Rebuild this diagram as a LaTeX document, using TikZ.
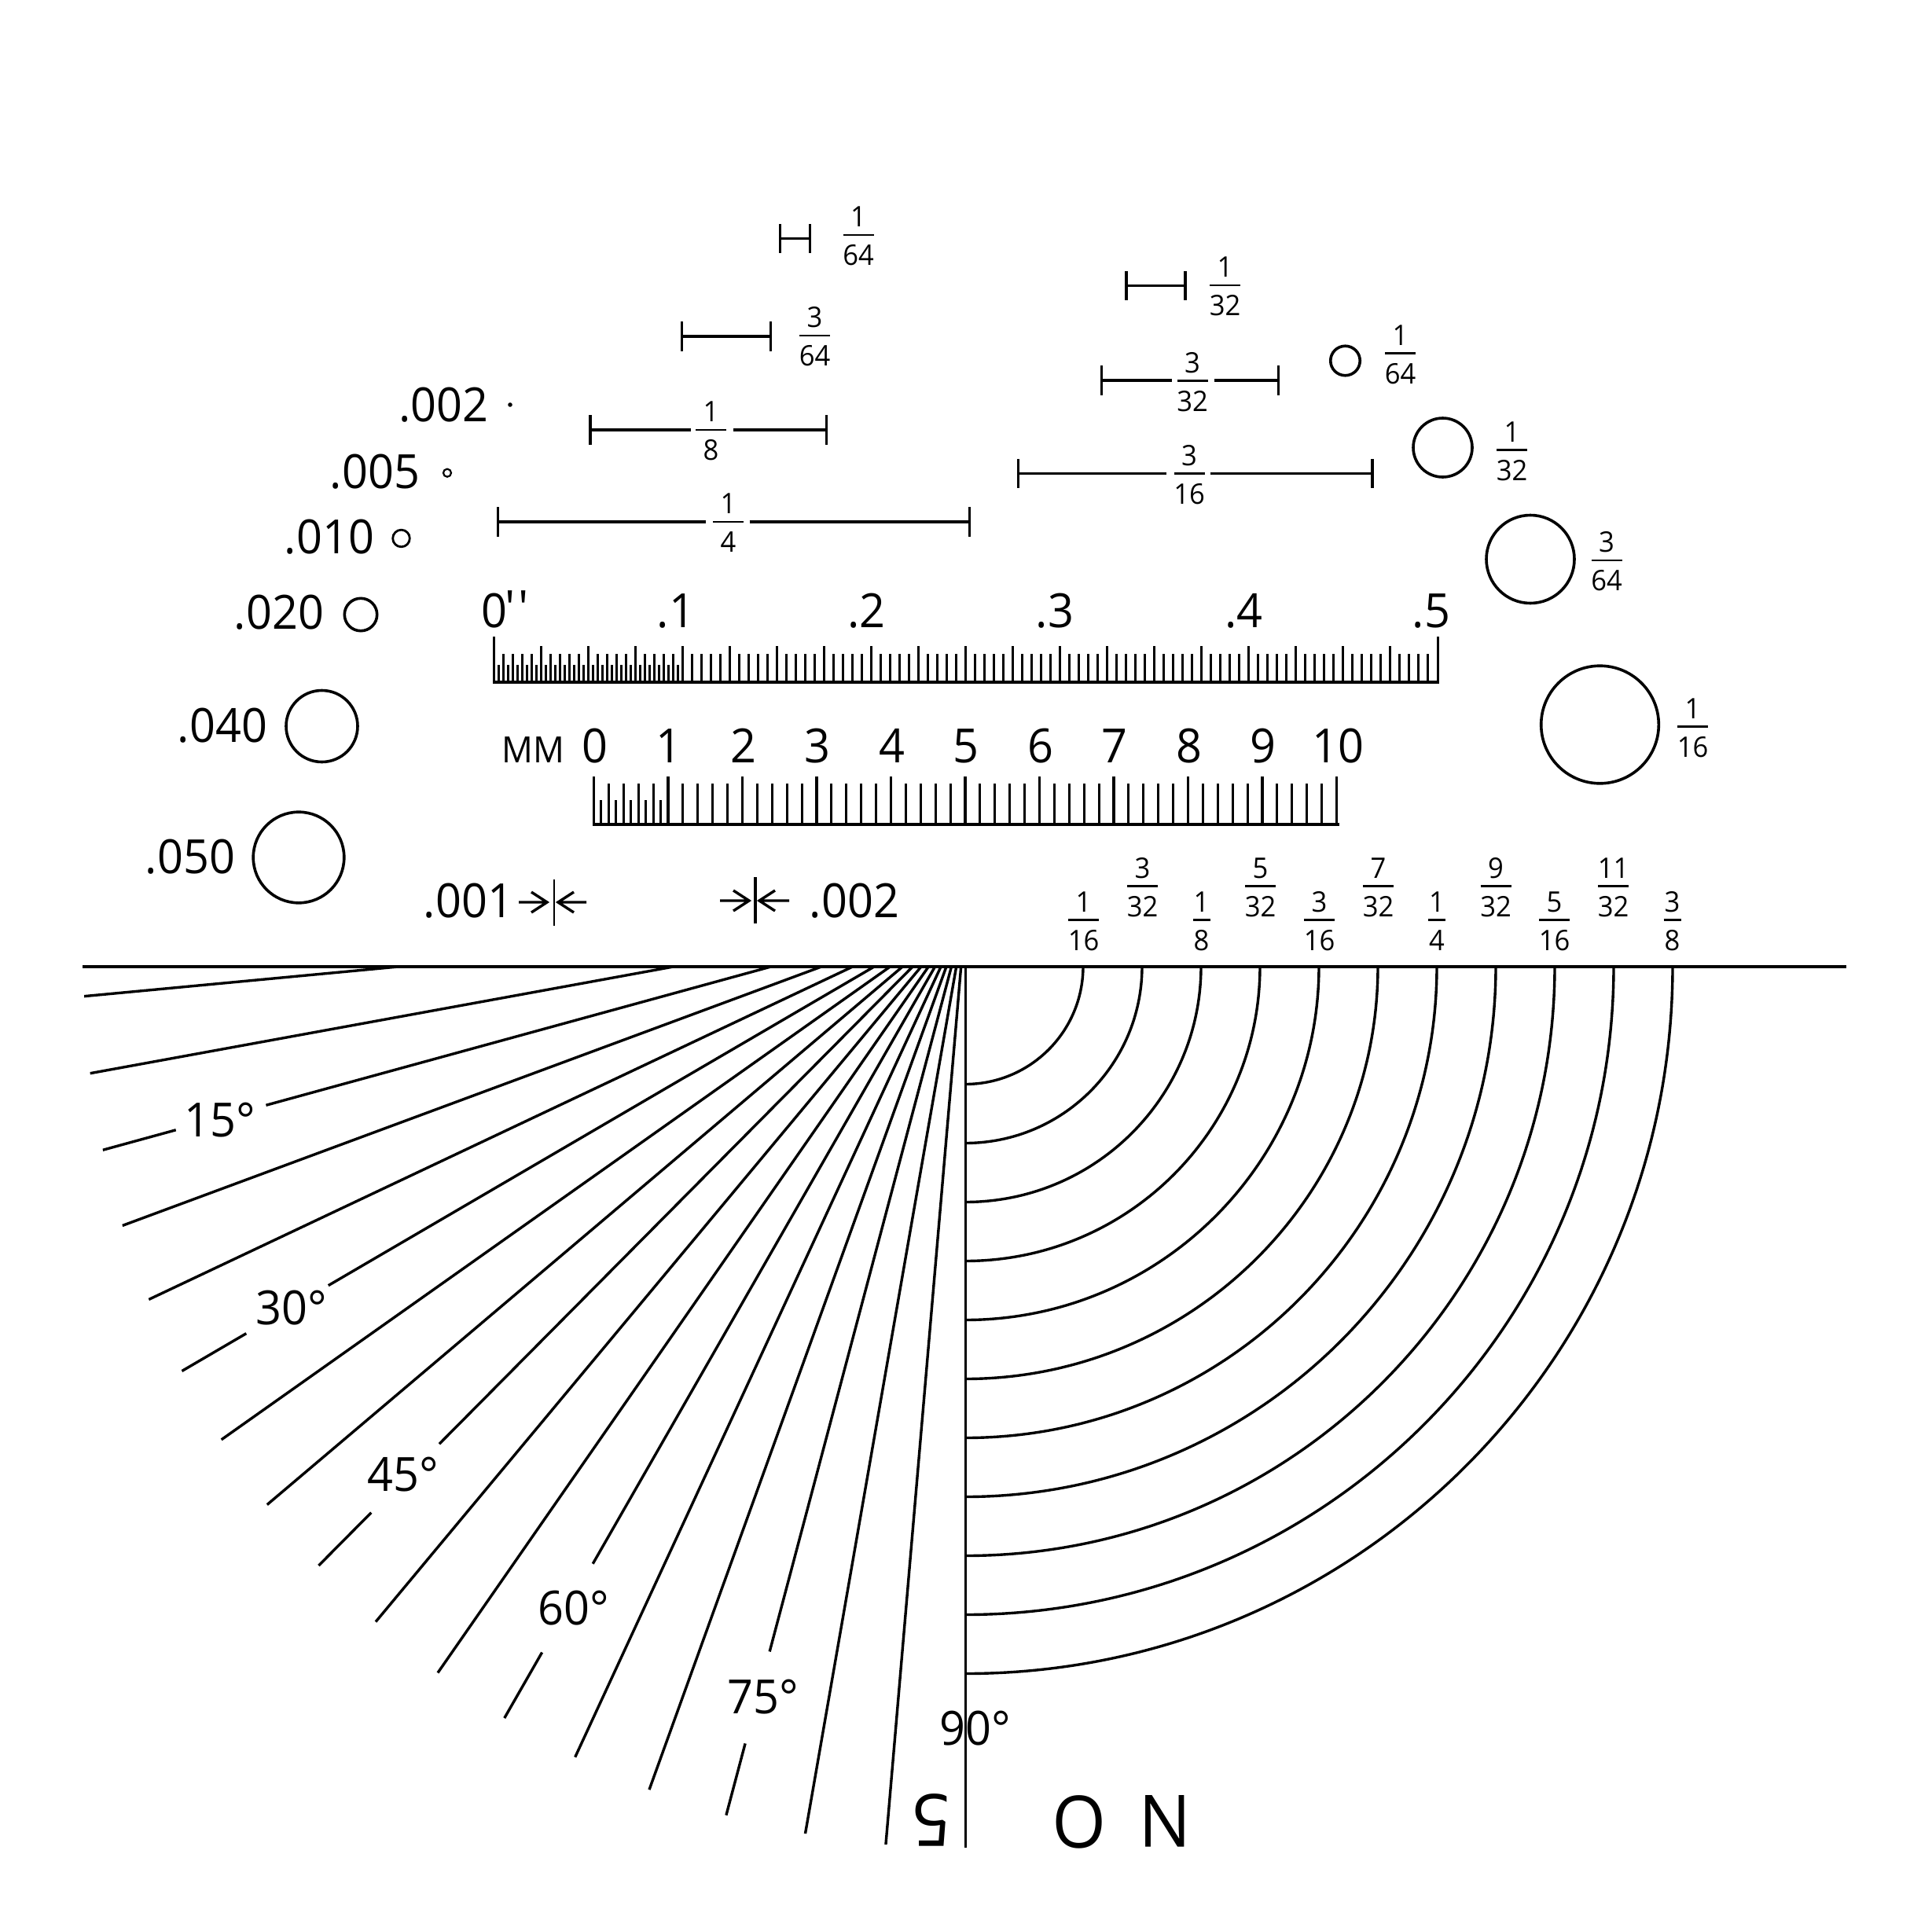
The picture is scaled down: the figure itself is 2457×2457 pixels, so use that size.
\documentclass[tikz,border=0pt]{standalone}
\usepackage{fontspec}
\setmainfont[FakeStretch=0.96]{Open Sans}
\newfontfamily\plainf{Open Sans}
\newcommand{\fsz}[1]{\fontsize{#1}{#1}\selectfont}
\tikzset{
  txt/.style={inner sep=0pt,outer sep=0pt,anchor=base,font=\fsz{60}},
  small/.style={inner sep=0pt,outer sep=0pt,anchor=base,font=\fsz{36}},
  fracbar/.style={line width=2.5pt},
  dimline/.style={line width=3.6pt},
  ringline/.style={line width=3.6pt},
  ruleline/.style={line width=3.4pt},
  tickline/.style={line width=3pt},
  radial/.style={line width=3.4pt},
  arcline/.style={line width=3.4pt}
}
% name, x, y of bar, numerator, denominator, bar half width
\newcommand{\frc}[6]{%
  \node[small] (#1n) at (#2,#3-10.5) {#4};
  \node[small] (#1d) at (#2,#3+38.5) {#5};
  \draw[fracbar] (#2-#6,#3) -- (#2+#6,#3);
}
\newcommand{\dimbar}[3]{%
  \draw[dimline] (#1,#3-18.7) -- (#1,#3+18.7);
  \draw[dimline] (#2,#3-18.7) -- (#2,#3+18.7);
}
\begin{document}
\begin{tikzpicture}[x=1pt,y=-1pt]
\useasboundingbox (0,0) rectangle (2457,2457);
\fill[white] (0,0) rectangle (2457,2457);

% left circle labels
\node[txt] (t002) at (564.5,536) {.002};
\node[txt] (t005) at (477,621.7) {.005};
\node[txt] (t010) at (419,704) {.010};
\node[txt] (t020) at (355,800) {.020};
\node[txt] (t040) at (283,944) {.040};
\node[txt] (t050) at (242,1111) {.050};
\fill (649,515) circle (2.8pt);
\draw[line width=2.2pt] (569,601.7) circle (5pt);
\draw[line width=2.8pt] (510.5,685) circle (10.8pt);
\draw[ringline] (459,782) circle (20.7pt);
\draw[ringline] (409.5,924) circle (45.5pt);
\draw[ringline] (380,1091) circle (57.8pt);

% right circles
\draw[ringline] (1711.5,459) circle (18.75pt);
\draw[ringline] (1835.5,569.5) circle (37.5pt);
\draw[ringline] (1947,711.5) circle (56pt);
\draw[ringline] (2035.5,922) circle (74.8pt);
\frc{ca}{1781.5}{449.5}{1}{64}{19.5}
\frc{cb}{1923.5}{572.5}{1}{32}{19.5}
\frc{cc}{2044}{713}{3}{64}{19.5}
\frc{cd}{2153.5}{924.5}{1}{16}{19.5}

% dimension bars
\dimbar{992.5}{1030.5}{303.5}
\draw[dimline] (992.5,303.5) -- (1030.5,303.5);
\frc{da}{1092}{299}{1}{64}{19.5}
\dimbar{867.5}{980.5}{428}
\draw[dimline] (867.5,428) -- (980.5,428);
\frc{db}{1036.5}{427}{3}{64}{19.5}
\dimbar{751}{1051.5}{547}
\draw[dimline] (751,547) -- (879,547) (933,547) -- (1051.5,547);
\frc{dc}{904.5}{547}{1}{8}{19.5}
\dimbar{633.5}{1233.5}{664}
\draw[dimline] (633.5,664) -- (897.5,664) (953.5,664) -- (1233.5,664);
\frc{dd}{926.5}{664}{1}{4}{19.5}
\dimbar{1433}{1508}{363.5}
\draw[dimline] (1433,363.5) -- (1508,363.5);
\frc{de}{1558.5}{363}{1}{32}{19.5}
\dimbar{1401.5}{1626.5}{484}
\draw[dimline] (1401.5,484) -- (1491,484) (1545.4,484) -- (1626.5,484);
\frc{df}{1517}{484.5}{3}{32}{19.5}
\dimbar{1295.5}{1746}{602.5}
\draw[dimline] (1295.5,602.5) -- (1484,602.5) (1540,602.5) -- (1746,602.5);
\frc{dg}{1513}{602.5}{3}{16}{19.5}

% inch ruler
\node[txt,anchor=base west] (r0) at (612,798) {0\kern-2pt\raisebox{4pt}{\plainf\symbol{39}\kern3.5pt\symbol{39}}};
\node[txt] (r1) at (860,798) {.1};
\node[txt] (r2) at (1102.5,798) {.2};
\node[txt] (r3) at (1342,798) {.3};
\node[txt] (r4) at (1582.5,798) {.4};
\node[txt] (r5) at (1821,798) {.5};
\draw[line width=3.8pt] (627.2,868) -- (1831,868);
\draw[tickline] (628.7,810) -- (628.7,868) (1829.5,810) -- (1829.5,868);
\foreach \i in {1,...,19}{ \draw[tickline] ({628.7+60*\i},822) -- ({628.7+60*\i},868); }
\foreach \i in {1,...,99}{ \draw[tickline] ({628.7+12*\i},832) -- ({628.7+12*\i},868); }
\foreach \i in {0,...,19}{ \draw[line width=2.6pt] ({634.7+12*\i},846) -- ({634.7+12*\i},868); }

% mm ruler
\node[txt,font=\fsz{46}] (mmlab) at (678,970) {MM};
\foreach \i in {0,...,9}{ \node[txt] (m\i) at ({756.5+94.5*\i},970) {\i}; }
\node[txt] (m10) at (1702.5,970) {10};
\draw[line width=3.8pt] (754,1049) -- (1703.5,1049);
\foreach \i in {0,...,10}{ \draw[ruleline] ({755.5+94.5*\i},988) -- ({755.5+94.5*\i},1049); }
\foreach \i in {1,...,49}{ \draw[tickline] ({755.5+18.9*\i},997) -- ({755.5+18.9*\i},1049); }
\foreach \i in {0,...,4}{ \draw[tickline] ({764.95+18.9*\i},1018) -- ({764.95+18.9*\i},1049); }

% line weight marks
\node[txt] (w1) at (596,1167) {.001};
\node[txt] (w2) at (1087,1167) {.002};
\draw[line width=2.4pt] (705,1119) -- (705,1178);
\draw[line width=4.8pt] (961,1116) -- (961,1175);
\draw[ruleline] (660,1148) -- (696,1148) (676,1135) -- (696,1148) -- (676,1161);
\draw[ruleline] (746,1148) -- (710,1148) (730,1135) -- (710,1148) -- (730,1161);
\draw[ruleline] (916,1146) -- (953,1146) (933,1133) -- (953,1146) -- (933,1159);
\draw[ruleline] (1004,1146) -- (966,1146) (986,1133) -- (966,1146) -- (986,1159);

% arc labels
\frc{aa}{1378.5}{1170.5}{1}{16}{19.5}
\frc{ab}{1453.5}{1127.5}{3}{32}{19.5}
\frc{ac}{1528.5}{1170.5}{1}{8}{11}
\frc{ad}{1603.5}{1127.5}{5}{32}{19.5}
\frc{ae}{1678.5}{1170.5}{3}{16}{19.5}
\frc{af}{1753.5}{1127.5}{7}{32}{19.5}
\frc{ag}{1828}{1170.5}{1}{4}{11}
\frc{ah}{1903}{1127.5}{9}{32}{19.5}
\frc{ai}{1977.5}{1170.5}{5}{16}{19.5}
\frc{aj}{2052.5}{1127.5}{11}{32}{19.5}
\frc{ak}{2127.5}{1170.5}{3}{8}{11}

% arcs
\foreach \r in {150,225,...,900}{
  \draw[arcline] ({1228+\r},1229.5) arc[start angle=0,end angle=90,radius=\r];
}

% radial lines
\begin{scope}
  \clip (0,1229) rectangle (2457,2457);
  \clip (1228.5,1229.5) circle (1122pt);
  \foreach \t in {5,10,20,25,35,40,50,55,65,70,80,85}{
    \pgfmathsetmacro{\ang}{180-\t-0.4+0.3*\t/85}
    \draw[radial] (1228.5,1162) -- ([shift={(1228.5,1162)}]\ang:1400);
  }
  \foreach \t/\a/\b in {15/923/1042,30/939/1060,45/951/1074,60/954/1084,75/972/1093}{
    \pgfmathsetmacro{\ang}{180-\t-0.4+0.3*\t/85}
    \draw[radial] (1228.5,1162) -- ([shift={(1228.5,1162)}]\ang:\a);
    \draw[radial] ([shift={(1228.5,1162)}]\ang:\b) -- ([shift={(1228.5,1162)}]\ang:1400);
  }
\end{scope}

% axes
\draw[line width=4pt] (105,1229.5) -- (2349,1229.5);
\draw[line width=3.4pt] (1228.5,1229.5) -- (1228.5,2351);

% angle labels
\node[txt] (a15) at (280,1446) {15°};
\node[txt] (a30) at (371,1685) {30°};
\node[txt] (a45) at (513,1897) {45°};
\node[txt] (a60) at (730,2067) {60°};
\node[txt] (a75) at (970.5,2180) {75°};
\node[txt] (a90) at (1240.5,2220) {90°};

% upside-down text
\node[inner sep=0pt,font=\fsz{92},rotate=180] (no5) at (1185,2316) {5};
\node[inner sep=0pt,font=\fsz{92},rotate=180] (noO) at (1373.5,2318) {O};
\node[inner sep=0pt,font=\fsz{92},rotate=180] (noN) at (1482,2317) {N};
\end{tikzpicture}
\end{document}
